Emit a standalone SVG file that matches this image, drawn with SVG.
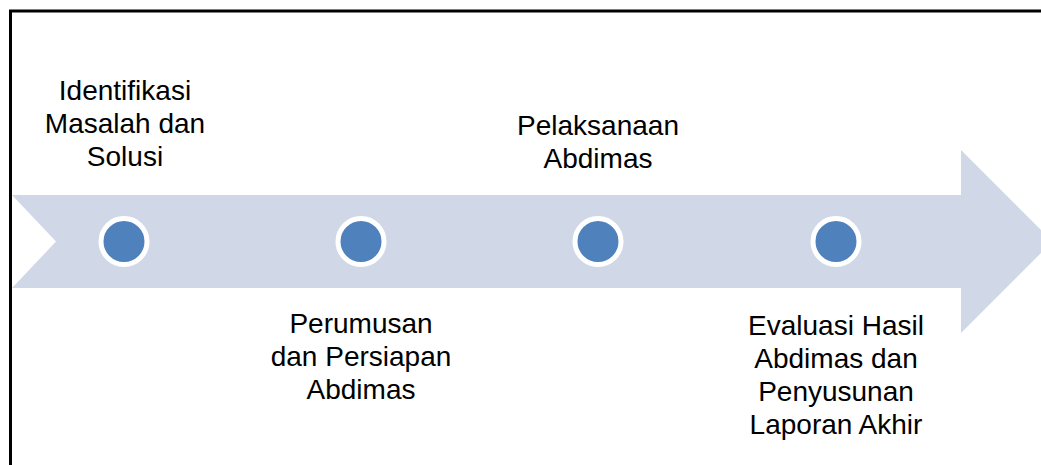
<svg xmlns="http://www.w3.org/2000/svg" width="1041" height="465" viewBox="0 0 1041 465">
  <style>
    .lbl { font-family: "Liberation Sans", Arial, sans-serif; font-size: 28px; fill: #000; text-anchor: middle; }
    .dot { fill: #4F81BD; stroke: #FFFFFF; stroke-width: 5; }
  </style>
  <rect width="1041" height="465" fill="#FFFFFF"/>
  <path id="frame" d="M10.5,465 V11 H1041" fill="none" stroke="#000" stroke-width="3"/>
  <g id="connectors">
    <polygon id="timeline-arrow" points="12,195 961,195 961,150 1052.5,241.5 961,333 961,288 12,288 56,241.5" fill="#D0D8E8"/>
  </g>
  <g id="node1">
    <circle class="dot" cx="124" cy="241.5" r="23"/>
    <text class="lbl" x="125" y="100">Identifikasi</text>
    <text class="lbl" x="125" y="133">Masalah dan</text>
    <text class="lbl" x="125" y="166">Solusi</text>
  </g>
  <g id="node2">
    <circle class="dot" cx="361" cy="241.5" r="23"/>
    <text class="lbl" x="361" y="333">Perumusan</text>
    <text class="lbl" x="361" y="366">dan Persiapan</text>
    <text class="lbl" x="361" y="399">Abdimas</text>
  </g>
  <g id="node3">
    <circle class="dot" cx="598" cy="241.5" r="23"/>
    <text class="lbl" x="598" y="135">Pelaksanaan</text>
    <text class="lbl" x="598" y="168">Abdimas</text>
  </g>
  <g id="node4">
    <circle class="dot" cx="836" cy="241.5" r="23"/>
    <text class="lbl" x="836" y="335">Evaluasi Hasil</text>
    <text class="lbl" x="836" y="368">Abdimas dan</text>
    <text class="lbl" x="836" y="401">Penyusunan</text>
    <text class="lbl" x="836" y="434">Laporan Akhir</text>
  </g>
</svg>
